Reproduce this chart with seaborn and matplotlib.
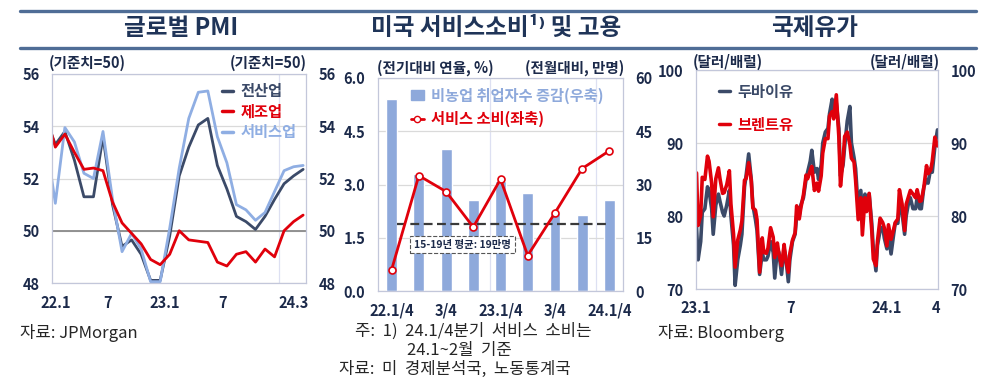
import numpy as np
import pandas as pd
import matplotlib
matplotlib.use('Agg')
import matplotlib.pyplot as plt
from matplotlib.lines import Line2D
from matplotlib.patches import Patch
import seaborn as sns

sns.set_theme(style='white')
plt.rcParams['font.family'] = ['Noto Sans CJK KR', 'DejaVu Sans']
plt.rcParams['font.weight'] = 'bold'
plt.rcParams['axes.unicode_minus'] = False

# ---- 글로벌 PMI (21.12 ~ 24.3, 월별) ----
pmi_months = ['21.12'] + [f'22.{m}' for m in range(1, 13)] + [f'23.{m}' for m in range(1, 13)] + ['24.1', '24.2', '24.3']
pmi_total = [54.3, 53.3, 53.8, 52.7, 51.3, 51.3, 53.6, 51.0, 49.4, 49.65, 49.1, 48.1, 48.1,
             49.8, 52.1, 53.2, 54.05, 54.3, 52.5, 51.6, 50.55, 50.35, 50.05, 50.55, 51.2,
             51.8, 52.1, 52.35]
pmi_manuf = [54.5, 53.2, 53.7, 53.0, 52.35, 52.4, 52.3, 51.1, 50.3, 49.9, 49.5, 48.9, 48.7,
             49.1, 50.0, 49.65, 49.6, 49.55, 48.8, 48.65, 49.1, 49.2, 48.8, 49.3, 49.0,
             50.0, 50.35, 50.6]
pmi_services = [53.5, 51.05, 53.95, 53.4, 52.2, 52.0, 53.8, 51.2, 49.2, 49.9, 49.3, 48.05, 48.05,
                50.1, 52.4, 54.3, 55.3, 55.35, 53.6, 52.6, 51.0, 50.8, 50.4, 50.7, 51.5,
                52.3, 52.45, 52.5]
pmi_ticklabels = ['22.1', '7', '23.1', '7', '24.3']

# ---- 미국 서비스소비 및 고용 (분기) ----
quarters = ['22.1/4', '22.2/4', '22.3/4', '22.4/4', '23.1/4', '23.2/4', '23.3/4', '23.4/4', '24.1/4']
payrolls = [54.0, 33.0, 40.0, 25.5, 31.0, 27.5, 22.0, 21.3, 25.5]      # 만명, 우축
svc_consumption = [0.6, 3.25, 2.8, 1.8, 3.15, 1.0, 2.2, 3.45, 3.95]   # %, 좌축
payroll_avg_15_19 = 19
q_ticklabels = ['22.1/4', '3/4', '23.1/4', '3/4', '24.1/4']

# ---- 국제유가 (2023.1 ~ 2024.4, 3영업일 간격) ----
brent = [85.9, 78.7, 80.1, 85.3, 85.0, 88.2, 87.5, 84.5, 79.9, 85.1, 86.6, 85.1, 83.1, 83.2,
         84.3, 86.2, 81.6, 77.5, 73.0, 76.7, 78.1, 79.3, 84.9, 85.1, 87.3, 84.8, 81.1, 80.8,
         79.5, 72.3, 77.0, 75.0, 74.9, 75.6, 78.4, 77.1, 74.3, 76.3, 74.8, 73.2, 76.1, 74.1,
         72.3, 74.9, 76.7, 77.7, 81.4, 79.6, 81.1, 82.9, 85.6, 85.1, 86.2, 86.8, 83.5, 84.5,
         83.4, 85.5, 88.6, 90.6, 90.6, 93.7, 94.3, 93.3, 96.6, 90.7, 84.1, 87.7, 90.9, 91.5,
         89.8, 87.9, 87.4, 84.9, 79.5, 82.5, 77.4, 82.5, 80.6, 83.1, 78.0, 74.1, 73.2, 76.6,
         79.7, 79.1, 78.4, 75.9, 78.8, 76.8, 78.2, 79.1, 79.6, 83.6, 81.7, 78.0, 81.6, 82.8,
         83.5, 83.0, 82.5, 83.6, 82.0, 82.1, 84.0, 86.9, 85.8, 86.3, 87.5, 90.8, 89.6]
dubai = [78.5, 74.0, 76.5, 80.5, 81.0, 84.0, 83.5, 81.0, 77.5, 81.5, 83.0, 82.0, 80.5, 80.0,
         81.5, 83.5, 80.0, 76.0, 70.5, 74.0, 76.0, 77.5, 84.0, 85.5, 88.5, 85.0, 81.5, 79.5,
         78.0, 72.0, 75.0, 74.0, 74.0, 74.5, 76.5, 75.0, 71.5, 75.5, 75.0, 72.0, 75.5, 74.5,
         71.0, 74.0, 76.5, 77.5, 80.0, 80.0, 81.5, 82.5, 85.0, 86.0, 87.5, 89.0, 86.0, 86.5,
         85.0, 87.0, 90.0, 91.5, 92.0, 94.0, 96.0, 94.5, 95.5, 92.0, 85.5, 87.0, 89.5, 93.0,
         95.0, 90.0, 88.0, 86.5, 81.0, 83.5, 80.0, 83.0, 82.0, 83.0, 79.0, 75.5, 72.5, 76.0,
         78.0, 78.5, 77.0, 75.5, 77.5, 74.8, 77.5, 79.0, 79.0, 81.5, 80.5, 77.5, 80.0, 82.0,
         82.5, 81.0, 81.0, 82.5, 81.0, 81.0, 84.0, 85.0, 84.5, 86.5, 86.0, 89.5, 91.8]
oil_ticks = ['2023-01-01', '2023-07-01', '2024-01-01', '2024-04-06']
oil_ticklabels = ['23.1', '7', '24.1', '4']

NAVY = '#1C2A4A'
TITLE_C = '#1F3458'
RULE_C = '#4F6D96'
C_DARK = '#3B4A68'
C_RED = '#E0000B'
C_LBLUE = '#8FAEE3'
C_BAR = '#8EA9DB'
GRID_C = '#DADADA'
VGRID_C = '#DDE0F2'
SPINE_C = '#C3C7DA'
FOOT_C = '#262626'
TICK_FS = 10.5

W, H = 989, 384
fig = plt.figure(figsize=(W / 100, H / 100), dpi=100)


def px(x, y):
    return x / W, 1 - y / H


def box(l, t, r, b):
    return [l / W, 1 - b / H, (r - l) / W, (b - t) / H]


def style_axes(ax):
    for s in ax.spines.values():
        s.set_color(SPINE_C)
        s.set_linewidth(0.9)
    ax.tick_params(axis='both', length=0, labelsize=TICK_FS, labelcolor=NAVY)
    ax.set_xlabel('')
    ax.set_ylabel('')


# title rules
for yy in (11, 47.5):
    fig.add_artist(Line2D([20 / W, 976 / W], [1 - yy / H] * 2, color=RULE_C, lw=2.4))

fig.text(*px(181, 28), '글로벌 PMI', ha='center', va='center', fontsize=17, color=TITLE_C)
fig.text(*px(496, 28), '미국 서비스소비¹⁾ 및 고용', ha='center', va='center', fontsize=17, color=TITLE_C)
fig.text(*px(815, 28), '국제유가', ha='center', va='center', fontsize=17, color=TITLE_C)

# ---------- panel 1 ----------
ax1 = fig.add_axes(box(52, 74, 306, 283))
pmi_x = np.arange(len(pmi_months)) - 1
ax1.axhline(50, color='#8A8A8A', lw=1.3, zorder=1)
sns.lineplot(x=pmi_x, y=pmi_total, color=C_DARK, lw=2.0, ax=ax1)
sns.lineplot(x=pmi_x, y=pmi_services, color=C_LBLUE, lw=2.0, ax=ax1)
sns.lineplot(x=pmi_x, y=pmi_manuf, color=C_RED, lw=2.0, ax=ax1)
ax1.set_xlim(-0.35, 26.3)
ax1.set_ylim(48, 56)
ax1.set_yticks([48, 50, 52, 54, 56])
ax1.set_xticks([0, 5.5, 11.5, 17.5, 25], pmi_ticklabels)
ax1.set_xticks([5.5, 11.5, 17.5, 23.5], minor=True)
ax1.grid(axis='y', which='major', color=GRID_C, lw=0.9)
ax1.grid(axis='x', which='minor', color=VGRID_C, lw=0.9)
ax1.grid(axis='x', which='major', visible=False)
style_axes(ax1)
ax1.tick_params(axis='y', labelright=True, pad=9)
ax1.tick_params(axis='x', which='both', pad=9, length=0)
h1 = [Line2D([], [], color=c, lw=2.5) for c in (C_DARK, C_RED, C_LBLUE)]
ax1.legend(h1, ['전산업', '제조업', '서비스업'], loc='upper right', bbox_to_anchor=(1.0, 1.0),
           frameon=False, fontsize=11, handlelength=0.7, handletextpad=0.5, labelspacing=0.3,
           labelcolor=[C_DARK, C_RED, C_LBLUE], borderaxespad=0.2)
fig.text(*px(49, 63), '(기준치=50)', ha='left', va='center', fontsize=10.5, color=NAVY)
fig.text(*px(307, 63), '(기준치=50)', ha='right', va='center', fontsize=10.5, color=NAVY)

# ---------- panel 2 ----------
ax2 = fig.add_axes(box(378, 78, 623, 291))
sns.barplot(x=quarters, y=payrolls, color=C_BAR, saturation=1, width=0.4, ax=ax2, zorder=2)
ax2.hlines(payroll_avg_15_19, 0.2, 8.0, colors='#3A3A3A', linestyles=(0, (4, 2)), lw=1.6, zorder=3)
ax2.text(2.6, 13, '15-19년 평균: 19만명', ha='center', va='center', fontsize=7.5, color=NAVY, zorder=4,
         bbox=dict(boxstyle='square,pad=0.35', fc='white', ec='#555555', ls='--', lw=0.8))
ax2.set_ylim(0, 60)
ax2.set_yticks([0, 15, 30, 45, 60])
ax2.set_xlim(-0.5, 8.5)
ax2.set_xticks(range(0, len(quarters), 2), q_ticklabels)
ax2.set_xticks([3.6, 7.5], minor=True)
ax2.set_axisbelow(True)
ax2.grid(axis='y', color=GRID_C, lw=0.9)
ax2.grid(axis='x', which='minor', color=VGRID_C, lw=0.9)
style_axes(ax2)
ax2.tick_params(axis='x', which='both', pad=8, length=0)

ax2b = ax2.twinx()
sns.lineplot(x=np.arange(len(quarters)), y=svc_consumption, ax=ax2b, color=C_RED, lw=2.0,
             marker='o', markersize=5, markerfacecolor='white', markeredgecolor=C_RED,
             markeredgewidth=1.2)
ax2b.set_ylim(0, 6)
ax2b.set_yticks([0, 1.5, 3, 4.5, 6], ['0.0', '1.5', '3.0', '4.5', '6.0'])
# twinx puts the original axis on the left: swap sides (bars = 우축, line = 좌축)
ax2.yaxis.tick_right()
ax2b.yaxis.tick_left()
ax2.tick_params(axis='y', length=0, labelsize=TICK_FS, labelcolor=NAVY, pad=9)
for s in ax2b.spines.values():
    s.set_visible(False)
ax2b.tick_params(axis='y', length=0, labelsize=TICK_FS, labelcolor=NAVY, pad=9)
ax2b.set_ylabel('')
h2 = [Patch(color=C_BAR),
      Line2D([], [], color=C_RED, lw=2, marker='o', markersize=4.5, markerfacecolor='white',
             markeredgecolor=C_RED)]
ax2b.legend(h2, ['비농업 취업자수 증감(우축)', '서비스 소비(좌축)'], loc='upper left',
            bbox_to_anchor=(0.08, 1.02), frameon=False, fontsize=11, handlelength=0.8,
            handleheight=0.6, handletextpad=0.5, labelspacing=0.45,
            labelcolor=[C_BAR, C_RED])
fig.text(*px(377, 68), '(전기대비 연율, %)', ha='left', va='center', fontsize=10.5, color=NAVY)
fig.text(*px(624, 68), '(전월대비, 만명)', ha='right', va='center', fontsize=10.5, color=NAVY)

# ---------- panel 3 ----------
ax3 = fig.add_axes(box(696, 70, 938, 289))
oil_dates = pd.bdate_range('2023-01-02', periods=len(brent), freq='3B')
sns.lineplot(x=oil_dates, y=dubai, color=C_DARK, lw=2.6, ax=ax3)
sns.lineplot(x=oil_dates, y=brent, color=C_RED, lw=2.6, ax=ax3)
ax3.set_xlim(pd.Timestamp('2023-01-01'), oil_dates[-1] + pd.Timedelta(days=1))
ax3.set_ylim(70, 100)
ax3.set_yticks([70, 80, 90, 100])
ax3.set_xticks(pd.to_datetime(oil_ticks), oil_ticklabels)
ax3.set_xticks(pd.to_datetime(['2023-07-01', '2024-01-01']), minor=True)
ax3.grid(axis='y', color=GRID_C, lw=0.9)
ax3.grid(axis='x', which='minor', color=VGRID_C, lw=0.9)
ax3.grid(axis='x', which='major', visible=False)
style_axes(ax3)
ax3.tick_params(axis='y', labelright=True, pad=9)
ax3.tick_params(axis='x', which='both', pad=8, length=0)
h3 = [Line2D([], [], color=c, lw=2.5) for c in (C_DARK, C_RED)]
ax3.legend(h3, ['두바이유', '브렌트유'], loc='upper left', bbox_to_anchor=(0.04, 1.0),
           frameon=False, fontsize=11, handlelength=0.7, handletextpad=0.5, labelspacing=1.1,
           labelcolor=[C_DARK, C_RED])
fig.text(*px(693, 62), '(달러/배럴)', ha='left', va='center', fontsize=10.5, color=NAVY)
fig.text(*px(940, 62), '(달러/배럴)', ha='right', va='center', fontsize=10.5, color=NAVY)

# ---------- footnotes ----------
fk = dict(ha='left', va='center', fontsize=12, color=FOOT_C, fontweight='normal')
fig.text(*px(20, 333), '자료: JPMorgan', **fk)
fig.text(*px(355, 331), '주:  1)  24.1/4분기  서비스  소비는', **fk)
fig.text(*px(407, 350), '24.1~2월  기준', **fk)
fig.text(*px(339, 369), '자료:  미  경제분석국,  노동통계국', **fk)
fig.text(*px(658, 333), '자료: Bloomberg', **fk)

fig.savefig('out.png', dpi=100, facecolor='white')
